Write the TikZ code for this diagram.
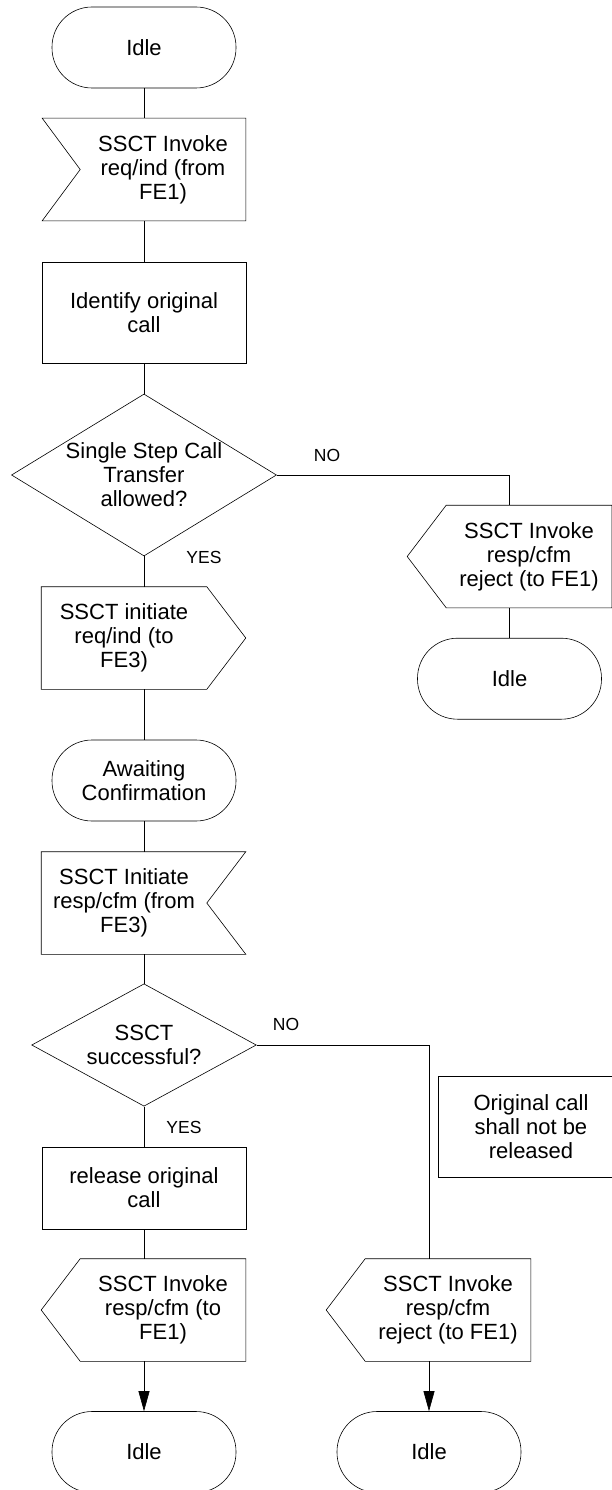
\documentclass[tikz,border=0pt]{standalone}
\usepackage{fontspec}
\setmainfont{Liberation Sans}
\usetikzlibrary{shapes.geometric,arrows.meta}

\tikzset{
  every node/.style={font=\fontsize{22}{24}\selectfont, align=center, inner sep=0pt},
  state/.style={draw, rectangle, rounded corners=40pt, minimum width=184pt, minimum height=81pt},
  task/.style={draw, rectangle, minimum width=204pt, minimum height=101pt},
  sigbody/.style={minimum width=165pt, minimum height=102pt},
  test/.style={draw, diamond},
  branch/.style={font=\fontsize{17.5}{20}\selectfont},
  flow/.style={-{Triangle[length=20pt,width=11pt]}},
}

\begin{document}
\begin{tikzpicture}[x=1pt, y=-1pt, line width=0.6pt]
\useasboundingbox (0,0) rectangle (612,1490);

% left column
\node[state] (idle) at (144,47.5) {Idle};
\node[sigbody] (invreq) at (163,169.5) {SSCT Invoke\\req/ind (from\\FE1)};
\draw ([xshift=-38pt]invreq.north west) -- (invreq.north east) -- (invreq.south east)
    -- ([xshift=-38pt]invreq.south west) -- (invreq.west) -- cycle;
\node[task] (ident) at (144,312.5) {Identify original\\call};
\node[test, minimum width=265pt, minimum height=162pt, aspect=1.64] (allowed) at (144,475)
    {Single Step Call\\Transfer\\allowed?};
\node[sigbody] (initreq) at (124,638) {SSCT initiate\\req/ind (to\\FE3)};
\draw (initreq.north west) -- (initreq.north east) -- ([xshift=39pt]initreq.east)
    -- (initreq.south east) -- (initreq.south west) -- cycle;
\node[state] (awaiting) at (144,780.5) {Awaiting\\Confirmation};
\node[sigbody] (initresp) at (124,903) {SSCT Initiate\\resp/cfm (from\\FE3)};
\draw (initresp.north west) -- ([xshift=39pt]initresp.north east) -- (initresp.east)
    -- ([xshift=39pt]initresp.south east) -- (initresp.south west) -- cycle;
\node[test, minimum width=224.6pt, minimum height=122.4pt, aspect=1.84] (success) at (144,1045)
    {SSCT\\successful?};
\node[task, minimum height=82pt] (release) at (144,1188) {release original\\call};
\node[sigbody] (respok) at (163,1310) {SSCT Invoke\\resp/cfm (to\\FE1)};
\draw (respok.north east) -- (respok.south east) -- (respok.south west)
    -- ([xshift=-39pt]respok.west) -- (respok.north west) -- cycle;
\node[state] (idleok) at (144,1452) {Idle};

% right branches
\node[sigbody] (rejA) at (529,556.5) {SSCT Invoke\\resp/cfm\\reject (to FE1)};
\draw (rejA.north east) -- (rejA.south east) -- (rejA.south west)
    -- ([xshift=-39pt]rejA.west) -- (rejA.north west) -- cycle;
\node[state] (idleR) at (509.5,678.7) {Idle};
\node[task, minimum width=186pt] (keep) at (531,1126.5) {Original call\\shall not be\\released};
\node[sigbody] (rejB) at (448,1310) {SSCT Invoke\\resp/cfm\\reject (to FE1)};
\draw (rejB.north east) -- (rejB.south east) -- (rejB.south west)
    -- ([xshift=-39pt]rejB.west) -- (rejB.north west) -- cycle;
\node[state] (idleC) at (429,1452) {Idle};

% connectors
\draw (idle.south) -- (idle.south |- invreq.north);
\draw (ident.north |- invreq.south) -- (ident.north);
\draw (ident.south) -- (allowed.north);
\draw (allowed.south) -- (allowed.south |- initreq.north);
\draw (awaiting.north |- initreq.south) -- (awaiting.north);
\draw (awaiting.south) -- (awaiting.south |- initresp.north);
\draw (success.north |- initresp.south) -- (success.north);
\draw (success.south) -- (release.north);
\draw (release.south) -- (release.south |- respok.north);
\draw[flow] (idleok.north |- respok.south) -- (idleok.north);
\draw (allowed.east) -| (idleR.north |- rejA.north);
\draw (idleR.north |- rejA.south) -- (idleR.north);
\draw (success.east) -| (idleC.north |- rejB.north);
\draw[flow] (idleC.north |- rejB.south) -- (idleC.north);

\node[branch] (no1) at (327,455) {NO};
\node[branch] (yes1) at (204,557) {YES};
\node[branch] (no2) at (286,1024) {NO};
\node[branch] (yes2) at (184,1127) {YES};
\end{tikzpicture}
\end{document}
